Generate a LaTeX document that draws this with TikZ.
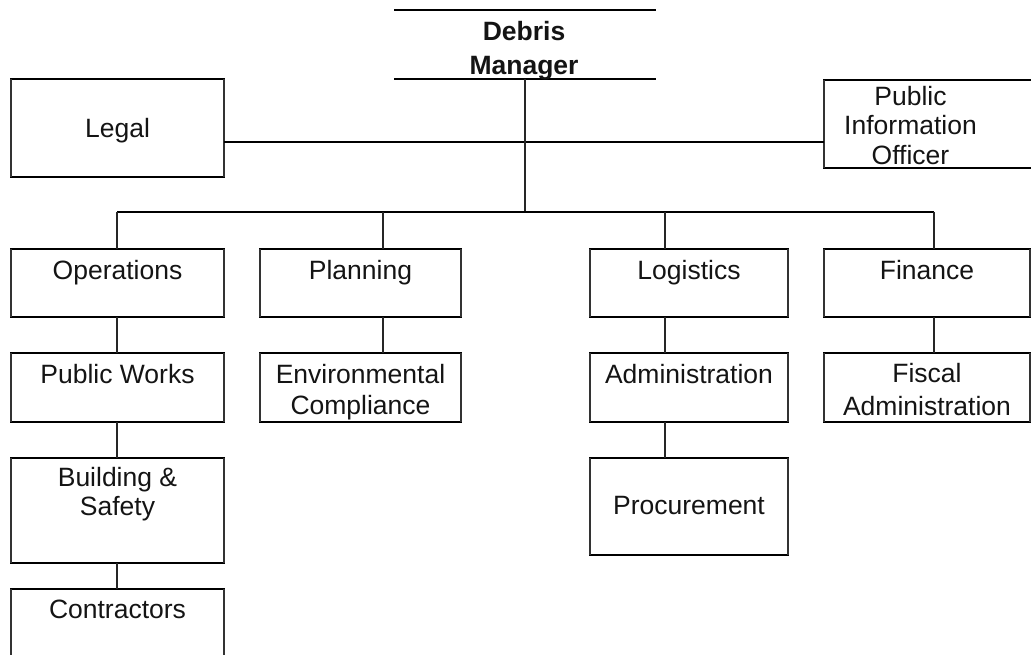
\documentclass[tikz,border=0pt]{standalone}
\usepackage{fontspec}
\setmainfont{Liberation Sans}
\usetikzlibrary{calc,fit}

\tikzset{
  frame/.style={rectangle, draw=none, inner sep=0pt, outer sep=0pt},
  rim/.style={line width=2.6pt, black, line cap=rect},
  side/.style={line width=1.2pt, black!80},
  link/.style={line width=1.3pt, black!85},
  bar/.style={line width=2.3pt, black},
  txt/.style={inner sep=0pt, align=center, anchor=north, text=black!92,
              font=\fontsize{26.5}{31}\selectfont},
}

% box with thick top/bottom rules and thin sides
\newcommand{\orgbox}[5]{%
  \node[frame, fit={(#2,#3) (#4,#5)}] (#1) {};
  \draw[rim] (#1.north west) -- (#1.north east) (#1.south west) -- (#1.south east);
  \draw[side] (#1.north west) -- (#1.south west) (#1.north east) -- (#1.south east);
}
% box drawn with top/bottom rules only
\newcommand{\orgrules}[5]{%
  \node[frame, fit={(#2,#3) (#4,#5)}] (#1) {};
  \draw[rim] (#1.north west) -- (#1.north east) (#1.south west) -- (#1.south east);
}

\begin{document}
\begin{tikzpicture}[x=1pt, y=-1pt]
  \useasboundingbox (0,0) rectangle (1031,655);
  \clip (0,0) rectangle (1031,655);

  % column positions of the drop lines
  \coordinate (c1) at (117,0);
  \coordinate (c2) at (383,0);
  \coordinate (c3) at (665,0);
  \coordinate (c4) at (934,0);
  \coordinate (staff) at (525,142);
  \coordinate (bus) at (525,212);

  % boxes
  \orgrules{dm}{395}{10}{655}{79}
  \orgbox{legal}{11}{79}{224}{177}
  \orgbox{pio}{824}{80}{1045}{168}

  \orgbox{ops}{11}{249}{224}{317}
  \orgbox{plan}{260}{249}{461}{317}
  \orgbox{log}{590}{249}{788}{317}
  \orgbox{fin}{824}{249}{1030}{317}

  \orgbox{pw}{11}{353}{224}{422}
  \orgbox{env}{260}{353}{461}{422}
  \orgbox{adm}{590}{353}{788}{422}
  \orgbox{fis}{824}{353}{1030}{422}

  \orgbox{bs}{11}{458}{224}{563}
  \orgbox{proc}{590}{458}{788}{555}
  \orgbox{con}{11}{589}{224}{690}

  % labels
  \node[txt, font=\bfseries\fontsize{26.5}{34}\selectfont] (dmT) at ($(dm.north)+(-1,11)$) {Debris\\Manager};
  \node[txt] (legalT) at ($(legal.north)+(0,39)$) {Legal};
  \node[txt, font=\fontsize{26.5}{29.5}\selectfont] (pioT) at ($(pio.north)+(-24,6)$) {Public\\Information\\Officer};

  \node[txt] (opsT)  at ($(ops.north)+(0,11)$)  {Operations};
  \node[txt] (planT) at ($(plan.north)+(0,11)$) {Planning};
  \node[txt] (logT)  at ($(log.north)+(0,11)$)  {Logistics};
  \node[txt] (finT)  at ($(fin.north)+(0,11)$)  {Finance};

  \node[txt] (pwT)  at ($(pw.north)+(0,11)$)  {Public Works};
  \node[txt] (envT) at ($(env.north)+(0,11)$) {Environmental\\Compliance};
  \node[txt] (admT) at ($(adm.north)+(0,11)$) {Administration};
  \node[txt, font=\fontsize{26.5}{33}\selectfont] (fisT) at ($(fis.north)+(0,10)$) {Fiscal\\Administration};

  \node[txt, font=\fontsize{26.5}{29}\selectfont] (bsT) at ($(bs.north)+(0,9)$) {Building \&\\Safety};
  \node[txt] (procT) at ($(proc.north)+(0,38)$) {Procurement};
  \node[txt] (conT)  at ($(con.north)+(0,11)$)  {Contractors};

  % staff line and the bus to the sections
  \draw[bar] (legal.east |- staff) -- (pio.west |- staff);
  \draw[link] (dm.south) -- (dm.south |- bus);
  \draw[bar] (c1 |- bus) -- (c4 |- bus);

  % drops to the section heads
  \draw[link] (c1 |- bus) -- (c1 |- ops.north);
  \draw[link] (c2 |- bus) -- (c2 |- plan.north);
  \draw[link] (c3 |- bus) -- (c3 |- log.north);
  \draw[link] (c4 |- bus) -- (c4 |- fin.north);

  % chains below each section
  \draw[link] (c1 |- ops.south) -- (c1 |- pw.north);
  \draw[link] (c1 |- pw.south) -- (c1 |- bs.north);
  \draw[link] (c1 |- bs.south) -- (c1 |- con.north);
  \draw[link] (c2 |- plan.south) -- (c2 |- env.north);
  \draw[link] (c3 |- log.south) -- (c3 |- adm.north);
  \draw[link] (c3 |- adm.south) -- (c3 |- proc.north);
  \draw[link] (c4 |- fin.south) -- (c4 |- fis.north);
\end{tikzpicture}
\end{document}
